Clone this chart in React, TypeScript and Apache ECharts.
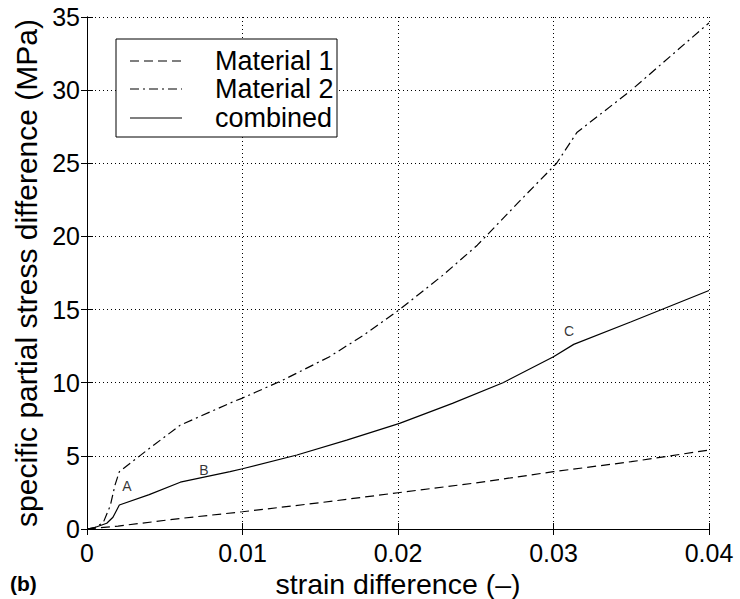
import React, { useEffect, useRef } from "react";
import * as echarts from "echarts";

const material1: [number, number][] = [
  [0, 0], [0.002, 0.2], [0.006, 0.72], [0.01, 1.18], [0.015, 1.8], [0.02, 2.48],
  [0.025, 3.15], [0.03, 3.92], [0.035, 4.6], [0.0375, 5.0], [0.04, 5.4],
];
const material2: [number, number][] = [
  [0, 0], [0.0005, 0.1], [0.00105, 0.45], [0.0015, 1.6], [0.0018, 3.0], [0.00208, 3.92],
  [0.004, 5.5], [0.006, 7.1], [0.0094, 8.7], [0.01, 8.95], [0.0126, 10.18], [0.0156, 11.78],
  [0.0178, 13.26], [0.0201, 15.0], [0.0229, 17.36], [0.0251, 19.4], [0.0279, 22.5],
  [0.0302, 25.0], [0.0315, 27.1], [0.035, 30.0], [0.04, 34.6],
];
const combined: [number, number][] = [
  [0, 0], [0.0005, 0.1], [0.00127, 0.39], [0.00167, 0.8], [0.00208, 1.64], [0.004, 2.35],
  [0.006, 3.2], [0.0092, 3.92], [0.01, 4.12], [0.0135, 5.06], [0.0167, 6.08], [0.0201, 7.22],
  [0.0235, 8.59], [0.02675, 10.0], [0.03, 11.78], [0.0313, 12.62], [0.035, 14.17], [0.04, 16.3],
];
const annotations: { name: string; value: [number, number] }[] = [
  { name: "A", value: [0.00257, 2.94] },
  { name: "B", value: [0.00752, 4.03] },
  { name: "C", value: [0.031, 13.53] },
];
const legendNames = ["Material 1", "Material 2", "combined"];
const xTicks = { min: 0, max: 0.04, interval: 0.01 };
const yTicks = { min: 0, max: 35, interval: 5 };

const FONT = "Liberation Sans, Arial, Helvetica, sans-serif";

export default function App() {
  const ref = useRef<HTMLDivElement>(null);
  useEffect(() => {
    if (!ref.current) return;
    const chart = echarts.init(ref.current, undefined, { renderer: "svg" });
    const axisLine = { show: true, lineStyle: { color: "#000", width: 1 } };
    const tick = { show: true, inside: true, length: 6, lineStyle: { color: "#000" } };
    const split = { show: true, lineStyle: { color: "#000", type: [1, 3] as any, width: 1 } };
    const dashStyles: any[] = [[9, 5], [9, 4, 2, 4], "solid"];
    const legendY = [61, 89, 118];
    chart.setOption({
      animation: false,
      backgroundColor: "#fff",
      grid: { left: 87, right: 31, top: 17, bottom: 70, show: false, outerBoundsMode: "none", containLabel: false },
      xAxis: [
        {
          type: "value", ...xTicks, position: "bottom",
          axisLine, axisTick: tick, splitLine: split,
          axisLabel: {
            color: "#000", fontSize: 25, fontFamily: FONT, margin: 11,
            formatter: (v: number) => (v === 0 ? "0" : String(+v.toFixed(2))),
          },
          name: "strain difference (–)", nameLocation: "middle", nameGap: 37,
          nameTextStyle: { color: "#000", fontSize: 28.5, fontFamily: FONT },
        },
        {
          type: "value", ...xTicks, position: "top",
          axisLine, axisTick: tick, splitLine: { show: false }, axisLabel: { show: false },
        },
      ],
      yAxis: [
        {
          type: "value", ...yTicks, position: "left",
          axisLine, axisTick: tick, splitLine: split,
          axisLabel: { color: "#000", fontSize: 25, fontFamily: FONT, margin: 7 },
          name: "specific partial stress difference (MPa)", nameLocation: "middle", nameGap: 42,
          nameTextStyle: { color: "#000", fontSize: 30, fontFamily: FONT },
        },
        {
          type: "value", ...yTicks, position: "right",
          axisLine, axisTick: tick, splitLine: { show: false }, axisLabel: { show: false },
        },
      ],
      series: [
        { name: legendNames[0], data: material1 },
        { name: legendNames[1], data: material2 },
        { name: legendNames[2], data: combined },
      ].map((s, i) => ({
        type: "line", name: s.name, data: s.data, symbol: "none", smooth: false,
        lineStyle: { color: "#000", width: 1.2, type: dashStyles[i] },
        silent: true,
      })).concat([
        {
          type: "scatter", name: "labels", data: annotations as any, symbolSize: 0,
          label: {
            show: true, position: "inside", formatter: (p: any) => p.name,
            color: "#000", fontSize: 14, fontFamily: FONT,
          },
          silent: true,
        } as any,
      ]),
      graphic: [
        {
          type: "rect", shape: { x: 116, y: 39, width: 221, height: 98 },
          style: { fill: "#fff", stroke: "#000", lineWidth: 1 }, z: 100,
        },
        ...legendNames.flatMap((n, i) => [
          {
            type: "line", shape: { x1: 130, y1: legendY[i], x2: 182, y2: legendY[i] },
            style: {
              stroke: "#000", lineWidth: 1.2,
              lineDash: i === 2 ? null : dashStyles[i],
            },
            z: 101,
          },
          {
            type: "text", x: 215, y: legendY[i],
            style: {
              text: n, fill: "#000", fontSize: 27, fontFamily: FONT,
              verticalAlign: "middle",
            },
            z: 101,
          },
        ]),
        {
          type: "text", x: 10, y: 583,
          style: {
            text: "(b)", fill: "#000", fontSize: 21, fontWeight: "bold", fontFamily: FONT,
            verticalAlign: "middle",
          },
        },
      ],
    });
    return () => chart.dispose();
  }, []);
  return <div ref={ref} style={{ width: 740, height: 599, position: "absolute", left: 0, top: 0 }} />;
}
